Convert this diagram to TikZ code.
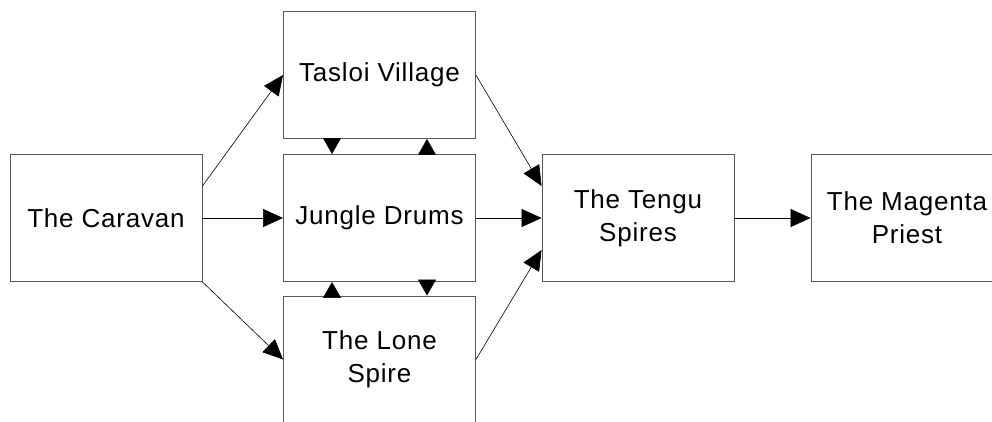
\documentclass[tikz,border=0pt]{standalone}
\usepackage{fontspec}
\setmainfont[LetterSpace=3]{Liberation Sans}
\usetikzlibrary{arrows.meta}
\begin{document}
\begin{tikzpicture}[x=1pt,y=-1pt,
  box/.style={draw=black!65,line width=0.9pt,minimum width=192pt,minimum height=127pt,inner sep=0pt,align=center,font=\fontsize{26}{33}\selectfont},
  conn/.style={draw=black,line width=0.6pt,-{Triangle[length=20pt,width=18pt,fill=black]}},
  vconn/.style={draw=black,line width=0.6pt,-{Triangle[length=16pt,width=18pt,fill=black]}}]
\useasboundingbox (0,0) rectangle (992,421);
\node[box] (caravan) at (106,218) {The Caravan};
\node[box] (tasloi) at (379.5,75) {Tasloi Village};
\node[box] (jungle) at (379.5,218) {Jungle Drums};
\node[box] (lone) at (379.5,359.5) {The Lone\\Spire};
\node[box] (tengu) at (638,218) {The Tengu\\Spires};
\node[box] (magenta) at (907,218) {The Magenta\\Priest};
\draw[conn] ([yshift=32pt]caravan.east) -- (tasloi.west);
\draw[conn] (caravan.east) -- (jungle.west);
\draw[conn] (caravan.south east) -- (lone.west);
\draw[vconn] ([xshift=-47.5pt]tasloi.south) -- ([xshift=-47.5pt]jungle.north);
\draw[vconn] ([xshift=47.5pt]jungle.north) -- ([xshift=47.5pt]tasloi.south);
\draw[vconn] ([xshift=47.5pt]jungle.south) -- ([xshift=47.5pt]lone.north);
\draw[vconn] ([xshift=-47.5pt]lone.north) -- ([xshift=-47.5pt]jungle.south);
\draw[conn] (tasloi.east) -- ([yshift=32pt]tengu.west);
\draw[conn] (jungle.east) -- (tengu.west);
\draw[conn] (lone.east) -- ([yshift=-32pt]tengu.west);
\draw[conn] (tengu.east) -- (magenta.west);
\end{tikzpicture}
\end{document}
